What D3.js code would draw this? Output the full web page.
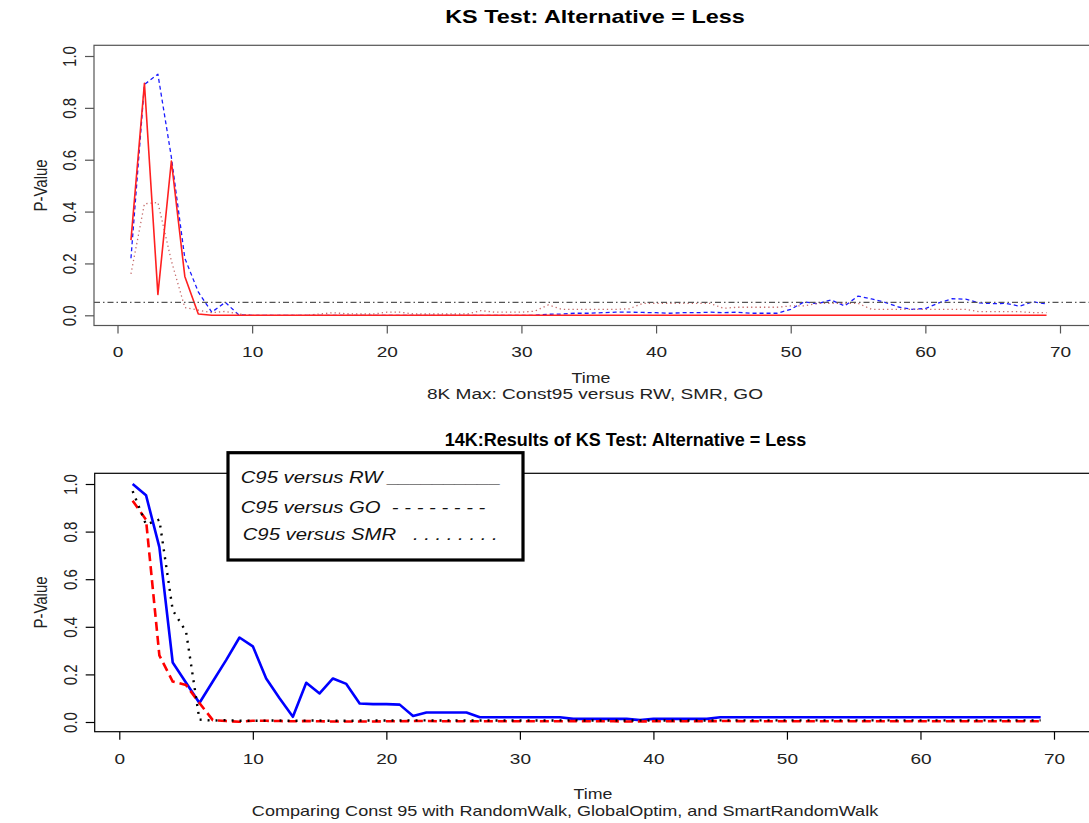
<!DOCTYPE html>
<html>
<head>
<meta charset="utf-8">
<script src="https://cdn.jsdelivr.net/npm/d3@7"></script>
<style>
  body { margin: 0; background: #fff; }
  svg { display: block; font-family: "Liberation Sans", Arial, sans-serif; }
  text { white-space: pre; }
</style>
</head>
<body>
<svg id="chart" width="1089" height="823"></svg>
<script>
// time steps 1..69 (shared by both panels)
const time = d3.range(1, 70);
const xTicks = [0, 10, 20, 30, 40, 50, 60, 70];
const yTicks = [0, 0.2, 0.4, 0.6, 0.8, 1.0];

// 8K Max panel
const topRW = [
  0.29, 0.895, 0.08, 0.595, 0.15, 0.005, 0, 0, 0, 0,
  0, 0, 0, 0, 0, 0, 0, 0, 0, 0,
  0, 0, 0, 0, 0, 0, 0, 0, 0, 0,
  0, 0, 0, 0, 0, 0, 0, 0, 0, 0,
  0, 0, 0, 0, 0, 0, 0, 0, 0, 0,
  0, 0, 0, 0, 0, 0, 0, 0, 0, 0,
  0, 0, 0, 0, 0, 0, 0, 0, 0
];
const topGO = [
  0.22, 0.89, 0.93, 0.61, 0.22, 0.09, 0.012, 0.05, 0.002, 0,
  0, 0, 0, 0, 0, 0, 0, 0, 0, 0,
  0, 0, 0, 0, 0, 0, 0, 0, 0, 0,
  0, 0.004, 0.005, 0.008, 0.008, 0.01, 0.012, 0.012, 0.011, 0.01,
  0.008, 0.01, 0.01, 0.012, 0.01, 0.012, 0.008, 0.008, 0.008, 0.023,
  0.052, 0.045, 0.059, 0.036, 0.074, 0.063, 0.05, 0.032, 0.023, 0.026,
  0.048, 0.064, 0.062, 0.048, 0.045, 0.046, 0.035, 0.052, 0.044
];
const topSMR = [
  0.16, 0.43, 0.435, 0.21, 0.03, 0.02, 0.01, 0.015, 0.005, 0,
  0, 0, 0, 0, 0.005, 0.01, 0.006, 0.005, 0.005, 0.012,
  0.012, 0.005, 0.005, 0.005, 0.005, 0.005, 0.018, 0.012, 0.012, 0.012,
  0.016, 0.04, 0.023, 0.023, 0.023, 0.023, 0.023, 0.025, 0.046, 0.046,
  0.046, 0.046, 0.046, 0.046, 0.027, 0.031, 0.031, 0.031, 0.031, 0.036,
  0.036, 0.046, 0.046, 0.046, 0.046, 0.023, 0.023, 0.023, 0.023, 0.023,
  0.023, 0.023, 0.023, 0.014, 0.014, 0.014, 0.014, 0.01, 0.01
];
const cutoff = 0.05;

// 14K panel
const botRW = [
  1.0, 0.953, 0.735, 0.25, 0.165, 0.08, 0.17, 0.26, 0.355, 0.318,
  0.183, 0.1, 0.022, 0.165, 0.12, 0.183, 0.16, 0.078, 0.075, 0.075,
  0.073, 0.025, 0.04, 0.04, 0.04, 0.04, 0.02, 0.02, 0.02, 0.02,
  0.02, 0.02, 0.02, 0.013, 0.013, 0.013, 0.013, 0.013, 0.008, 0.013,
  0.013, 0.013, 0.013, 0.013, 0.02, 0.02, 0.02, 0.02, 0.02, 0.02,
  0.02, 0.02, 0.02, 0.02, 0.02, 0.02, 0.02, 0.02, 0.02, 0.02,
  0.02, 0.02, 0.02, 0.02, 0.02, 0.02, 0.02, 0.02, 0.02
];
const botGO = [
  0.93, 0.85, 0.28, 0.17, 0.155, 0.08, 0.008, 0.004, 0.001, 0.005,
  0.005, 0.004, 0.003, 0.004, 0.003, 0.002, 0.002, 0.002, 0.002, 0.003,
  0.003, 0.004, 0.004, 0.003, 0.003, 0.003, 0.003, 0.003, 0.003, 0.003,
  0.003, 0.003, 0.003, 0.004, 0.003, 0.003, 0.003, 0.002, 0.002, 0.003,
  0.003, 0.003, 0.003, 0.003, 0.004, 0.004, 0.003, 0.003, 0.003, 0.003,
  0.003, 0.003, 0.003, 0.003, 0.003, 0.003, 0.003, 0.003, 0.003, 0.003,
  0.003, 0.003, 0.003, 0.003, 0.003, 0.003, 0.003, 0.003, 0.003
];
const botSMR = [
  0.97, 0.83, 0.85, 0.47, 0.38, 0.01, 0.006, 0.008, 0.005, 0.005,
  0.006, 0.006, 0.005, 0.006, 0.006, 0.005, 0.005, 0.006, 0.006, 0.006,
  0.006, 0.007, 0.007, 0.006, 0.006, 0.006, 0.006, 0.006, 0.006, 0.006,
  0.006, 0.006, 0.007, 0.007, 0.006, 0.006, 0.006, 0.006, 0.006, 0.006,
  0.006, 0.006, 0.006, 0.006, 0.007, 0.007, 0.007, 0.007, 0.007, 0.007,
  0.007, 0.007, 0.007, 0.007, 0.007, 0.007, 0.007, 0.007, 0.007, 0.007,
  0.007, 0.007, 0.007, 0.007, 0.007, 0.007, 0.007, 0.007, 0.007
];

const legendLabels = ['C95 versus RW __________', 'C95 versus GO  - - - - - - - -', 'C95 versus SMR   . . . . . . . .'];

// the source picture is stretched sideways, so text gets a horizontal scale too
const SX = 1.27;
const svg = d3.select('#chart');

function txt(parent, s, x, y, o = {}) {
  const rot = o.rotate ? ` rotate(${o.rotate})` : '';
  return parent.append('text')
    .attr('transform', `translate(${x},${y}) scale(${o.sx || SX},1)${rot}`)
    .attr('text-anchor', o.anchor || 'middle')
    .attr('font-size', o.size || 15)
    .attr('font-weight', o.weight || 'normal')
    .attr('font-style', o.style || 'normal')
    .attr('fill', o.fill || '#000')
    .text(s);
}

function panel(cfg) {
  const g = svg.append('g');
  const x = d3.scaleLinear().domain([0, 70]).range(cfg.xRange);
  const y = d3.scaleLinear().domain([0, 1]).range(cfg.yRange);
  const b = cfg.box;

  g.append('rect')
    .attr('x', b.left).attr('y', b.top)
    .attr('width', b.right - b.left).attr('height', b.bottom - b.top)
    .attr('fill', 'none').attr('stroke', cfg.axisColor).attr('stroke-width', 1.2);

  g.append('g')
    .attr('transform', `translate(0,${b.bottom})`)
    .call(d3.axisBottom(x).tickValues(xTicks).tickSize(8).tickFormat(d3.format('d')))
    .call(a => a.select('.domain').remove())
    .call(a => a.attr('font-family', null).attr('font-size', 15))
    .call(a => a.selectAll('line').attr('stroke', cfg.axisColor).attr('stroke-width', 1.2))
    .call(a => a.selectAll('text')
      .attr('y', null).attr('dy', null).attr('fill', '#222')
      .attr('transform', `translate(0,${cfg.xLabelOffset}) scale(${SX},1)`));

  g.append('g')
    .attr('transform', `translate(${b.left},0)`)
    .call(d3.axisLeft(y).tickValues(yTicks).tickSize(9).tickFormat(d3.format('.1f')))
    .call(a => a.select('.domain').remove())
    .call(a => a.attr('font-family', null).attr('font-size', 15))
    .call(a => a.selectAll('line').attr('stroke', cfg.axisColor).attr('stroke-width', 1.2))
    .call(a => a.selectAll('text')
      .attr('x', null).attr('dy', null).attr('fill', '#222')
      .attr('text-anchor', 'middle')
      .attr('transform', `translate(-18,0) scale(${SX},1) rotate(-90)`));

  const line = d3.line().x((d, i) => x(time[i])).y(d => y(d));
  cfg.series.forEach(s => {
    g.append('path')
      .datum(s.values)
      .attr('d', line)
      .attr('fill', 'none')
      .attr('stroke', s.color)
      .attr('stroke-width', s.width)
      .attr('stroke-dasharray', s.dash || null)
      .attr('stroke-linejoin', 'round');
  });

  if (cfg.hline != null) {
    g.append('line')
      .attr('x1', b.left).attr('x2', b.right)
      .attr('y1', y(cfg.hline)).attr('y2', y(cfg.hline))
      .attr('stroke', '#555').attr('stroke-width', 1.2)
      .attr('stroke-dasharray', '6,3,1.5,3');
  }

  txt(g, cfg.title, cfg.titlePos[0], cfg.titlePos[1], { size: 18, weight: 'bold', sx: cfg.titleSx });
  txt(g, 'P-Value', 47, (b.top + b.bottom) / 2, { rotate: -90, fill: '#222' });
  txt(g, 'Time', cfg.timePos[0], cfg.timePos[1], { size: 14, fill: '#222' });
  txt(g, cfg.sub, cfg.subPos[0], cfg.subPos[1], { size: 14, fill: '#222', sx: cfg.subSx });
  return g;
}

panel({
  box: { left: 94, right: 1100, top: 45.3, bottom: 325.5 },
  xRange: [117.5, 1060], yRange: [315.3, 56],
  axisColor: '#555', xLabelOffset: 31,
  hline: cutoff,
  series: [
    { values: topGO, color: '#1a1aff', width: 1.3, dash: '4,3' },
    { values: topSMR, color: '#c46a6a', width: 1.3, dash: '1.3,3' },
    { values: topRW, color: '#ff2020', width: 1.6 }
  ],
  title: 'KS Test: Alternative = Less', titlePos: [595, 23], titleSx: 1.3,
  timePos: [591, 383],
  sub: '8K Max: Const95 versus RW, SMR, GO', subPos: [595, 399], subSx: 1.36
});

const bottom = panel({
  box: { left: 94.7, right: 1100, top: 473.3, bottom: 731.7 },
  xRange: [119.3, 1054], yRange: [722, 484],
  axisColor: '#000', xLabelOffset: 32,
  hline: null,
  series: [
    { values: botRW, color: '#0000ff', width: 2.6 },
    { values: botGO, color: '#ff0000', width: 2.6, dash: '9,5' },
    { values: botSMR, color: '#000', width: 2.4, dash: '2,6' }
  ],
  title: '14K:Results of KS Test: Alternative = Less', titlePos: [625.5, 446], titleSx: 1.0,
  timePos: [593, 799],
  sub: 'Comparing Const 95 with RandomWalk, GlobalOptim, and SmartRandomWalk', subPos: [565, 816], subSx: 1.29
});

// legend box
const lg = bottom.append('g');
lg.append('rect')
  .attr('x', 228).attr('y', 452.7).attr('width', 295).attr('height', 107.3)
  .attr('fill', '#fff').attr('stroke', '#000').attr('stroke-width', 3.2);
const legendRows = [[240.7, 483], [240.7, 513], [242.7, 540]];
legendLabels.forEach((s, i) => {
  txt(lg, s, legendRows[i][0], legendRows[i][1], { size: 16, style: 'italic', anchor: 'start', fill: '#111' });
});
</script>
</body>
</html>
